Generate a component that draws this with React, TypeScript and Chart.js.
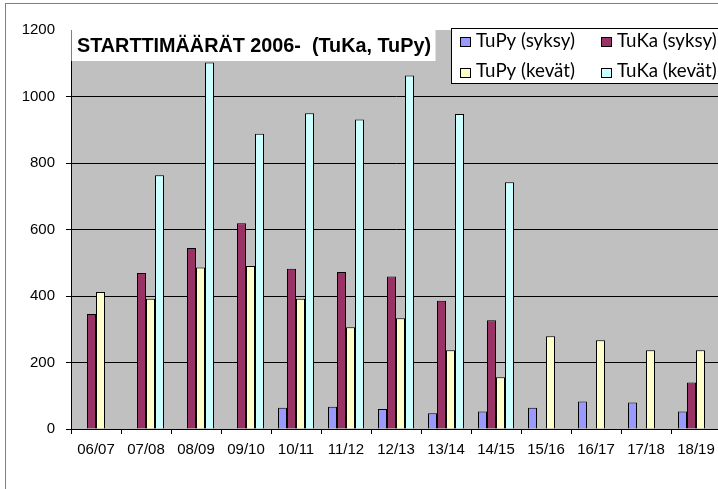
import React, { useEffect, useRef } from "react";
import { Chart, registerables } from "chart.js";

Chart.register(...registerables);

const categories = ["06/07", "07/08", "08/09", "09/10", "10/11", "11/12", "12/13", "13/14", "14/15", "15/16", "16/17", "17/18", "18/19"];
const tupySyksy = [null, null, null, null, 64, 67, 60, 47, 53, 64, 83, 80, 53];
const tukaSyksy = [346, 469, 544, 619, 482, 472, 459, 386, 327, null, null, null, 140];
const tupyKevat = [412, 392, 486, 490, 392, 306, 333, 237, 156, 279, 267, 237, 237];
const tukaKevat = [null, 763, 1102, 888, 950, 931, 1063, 947, 742, null, null, null, null];
const seriesNames = ["TuPy (syksy)", "TuKa (syksy)", "TuPy (kevät)", "TuKa (kevät)"];
const seriesColors = ["#9999ff", "#993366", "#ffffcc", "#ccffff"];
const yTicks = [0, 200, 400, 600, 800, 1000, 1200];
const titleText = "STARTTIMÄÄRÄT 2006-  (TuKa, TuPy)";

const W = 730;
const H = 500;

const decor = {
  id: "decor",
  beforeDraw(chart: any) {
    const { ctx, chartArea } = chart;
    ctx.save();
    ctx.fillStyle = "#ffffff";
    ctx.fillRect(0, 0, chart.width, chart.height);
    ctx.strokeStyle = "#808080";
    ctx.lineWidth = 1;
    ctx.strokeRect(5.5, 3.5, chart.width, chart.height);
    ctx.fillStyle = "#c0c0c0";
    ctx.fillRect(chartArea.left, chartArea.top, chartArea.right - chartArea.left, chartArea.bottom - chartArea.top);
    ctx.restore();
  },
  afterDraw(chart: any) {
    const { ctx, chartArea } = chart;
    ctx.save();
    // title box
    ctx.fillStyle = "#ffffff";
    ctx.fillRect(chartArea.left + 0.5, 28, 435 - chartArea.left, 61 - 28);
    ctx.fillStyle = "#000000";
    ctx.font = "bold 21px 'Liberation Sans', Arial, sans-serif";
    ctx.textBaseline = "alphabetic";
    const tw = ctx.measureText(titleText).width;
    const target = 354;
    const sx = tw > target ? target / tw : 1;
    ctx.save();
    ctx.translate(77, 52);
    ctx.scale(sx, 1);
    ctx.fillText(titleText, 0, 0);
    ctx.restore();

    // legend box
    ctx.fillStyle = "#ffffff";
    ctx.fillRect(451.5, 28.5, 300, 55);
    ctx.strokeStyle = "#000000";
    ctx.lineWidth = 1;
    ctx.strokeRect(451.5, 28.5, 300, 55);
    ctx.font = "16px Lato, sans-serif";
    const mw = ctx.measureText(seriesNames[0]).width;
    const fs = 16 * 99 / mw;
    ctx.font = fs.toFixed(2) + "px Lato, sans-serif";
    const cols = [460, 601];
    const rows = [37, 68];
    const base = [47, 77];
    seriesNames.forEach((name, i) => {
      const c = i % 2;
      const r = Math.floor(i / 2);
      ctx.fillStyle = seriesColors[i];
      ctx.fillRect(cols[c] + 0.5, rows[r] + 0.5, 10, 9);
      ctx.strokeStyle = "#000000";
      ctx.strokeRect(cols[c] + 0.5, rows[r] + 0.5, 10, 9);
      ctx.fillStyle = "#000000";
      ctx.fillText(name, cols[c] + 16, base[r]);
    });
    ctx.restore();
  },
};

export default function App() {
  const ref = useRef<HTMLCanvasElement | null>(null);
  useEffect(() => {
    if (!ref.current) return;
    const datasets = [tupySyksy, tukaSyksy, tupyKevat, tukaKevat].map((d, i) => ({
      label: seriesNames[i],
      data: d,
      backgroundColor: seriesColors[i],
      borderColor: "#000000",
      borderWidth: 1,
      categoryPercentage: 0.72,
      barPercentage: 1.0,
    }));
    const chart = new Chart(ref.current, {
      type: "bar",
      data: { labels: categories, datasets },
      plugins: [decor],
      options: {
        responsive: false,
        animation: false,
        layout: { padding: { left: 0, top: 30, right: 9, bottom: 31 } },
        plugins: { legend: { display: false }, tooltip: { enabled: false }, title: { display: false } },
        scales: {
          x: {
            type: "category",
            offset: true,
            grid: { offset: true, drawOnChartArea: false, tickLength: 5, color: "#000000" },
            border: { color: "#000000" },
            ticks: {
              color: "#000000",
              font: { family: "'Liberation Sans', Arial, sans-serif", size: 15 },
              padding: 7,
              maxRotation: 0,
              autoSkip: false,
            },
            afterFit(scale: any) {
              scale.height = 40;
            },
          },
          y: {
            min: 0,
            max: 1200,
            afterBuildTicks(scale: any) {
              scale.ticks = yTicks.map((v) => ({ value: v }));
            },
            grid: {
              tickLength: 5,
              color: (c: any) => (c.tick && c.tick.value === 1200 ? "rgba(0,0,0,0)" : "#000000"),
            },
            border: { color: "#000000" },
            ticks: {
              color: "#000000",
              font: { family: "'Liberation Sans', Arial, sans-serif", size: 15 },
              padding: 11,
              callback: (v: any) => String(v),
            },
            afterFit(scale: any) {
              scale.width = 71;
            },
          },
        },
      },
    });
    return () => chart.destroy();
  }, []);
  return (
    <div style={{ position: "fixed", left: 0, top: 0, width: 718, height: 489, overflow: "hidden", background: "#fff" }}>
      <canvas ref={ref} width={W} height={H} style={{ width: W, height: H, display: "block" }} />
    </div>
  );
}
